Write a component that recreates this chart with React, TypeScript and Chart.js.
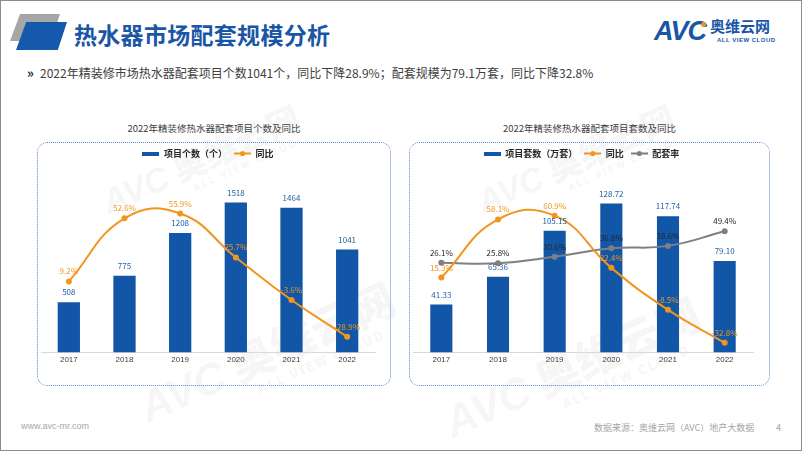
import React, { useEffect, useRef } from "react";
import { Chart, registerables } from "chart.js";

Chart.register(...registerables);

// ---------- data ----------
const years = ["2017", "2018", "2019", "2020", "2021", "2022"];
const projectCount = [508, 775, 1208, 1518, 1464, 1041];
const projectCountYoY = [9.2, 52.6, 55.9, 25.7, -3.6, -28.9];
const unitVolume = [41.33, 65.36, 105.15, 128.72, 117.74, 79.1];
const unitVolumeYoY = [15.3, 58.1, 60.9, 22.4, -8.5, -32.8];
const matchRate = [26.1, 25.8, 30.6, 36.8, 38.6, 49.4];

// ---------- styles ----------
const BLUE = "#1156A7";
const ORANGE = "#F2951F";
const GRAY = "#7F7F7F";
const LABEL_BLUE = "#1F5FA6";
const TEXT = "#404040";
const CJK = '"Noto Sans CJK SC", "Liberation Sans", sans-serif';
const LATIN = '"Liberation Sans", "Noto Sans CJK SC", sans-serif';

function barIcon(color: string) {
  const c = document.createElement("canvas");
  c.width = 17;
  c.height = 4;
  const ctx = c.getContext("2d")!;
  ctx.fillStyle = color;
  ctx.fillRect(0, 0, 17, 4);
  return c;
}

function lineIcon(color: string) {
  const c = document.createElement("canvas");
  c.width = 17;
  c.height = 7;
  const ctx = c.getContext("2d")!;
  ctx.strokeStyle = color;
  ctx.lineWidth = 2;
  ctx.beginPath();
  ctx.moveTo(0, 3.5);
  ctx.lineTo(17, 3.5);
  ctx.stroke();
  ctx.fillStyle = color;
  ctx.beginPath();
  ctx.arc(8.5, 3.5, 2.6, 0, Math.PI * 2);
  ctx.fill();
  return c;
}

const valueLabelPlugin = {
  id: "valueLabels",
  afterDatasetsDraw(chart: any) {
    const ctx = chart.ctx;
    chart.data.datasets.forEach((ds: any, i: number) => {
      const meta = chart.getDatasetMeta(i);
      const opt = ds.valueLabel;
      if (!opt) return;
      meta.data.forEach((el: any, j: number) => {
        const v = ds.data[j];
        ctx.save();
        ctx.font = `${opt.weight || "normal"} 8px ${CJK}`;
        ctx.fillStyle = opt.color;
        ctx.textAlign = "center";
        ctx.textBaseline = "middle";
        ctx.fillText(opt.fmt(v), el.x + (opt.dx || 0), el.y - (opt.dy || 10));
        ctx.restore();
      });
    });
  },
};

function legendOptions(icons: any[]) {
  return {
    display: true,
    position: "top",
    labels: {
      usePointStyle: true,
      pointStyleWidth: 17,
      boxHeight: 9,
      padding: 7,
      color: "#262626",
      font: { size: 9, weight: "bold", family: CJK },
      generateLabels(chart: any) {
        const items = Chart.defaults.plugins.legend.labels.generateLabels(chart);
        items.sort((a: any, b: any) => a.datasetIndex - b.datasetIndex);
        return items.map((it: any) => ({ ...it, pointStyle: icons[it.datasetIndex] }));
      },
    },
  };
}

const xScale = {
  grid: { display: false, drawTicks: false },
  border: { display: true, color: "#D9D9D9", width: 1 },
  ticks: { color: TEXT, font: { size: 8, family: LATIN }, padding: 3 },
};

function ChartOne() {
  const ref = useRef<HTMLCanvasElement>(null);
  useEffect(() => {
    const chart = new Chart(ref.current!, {
      type: "bar",
      data: {
        labels: years,
        datasets: [
          {
            type: "bar",
            label: "项目个数（个）",
            data: projectCount,
            backgroundColor: BLUE,
            yAxisID: "y",
            order: 2,
            barPercentage: 0.4,
            categoryPercentage: 1,
            valueLabel: { color: LABEL_BLUE, fmt: (v: number) => String(v) },
          } as any,
          {
            type: "line",
            label: "同比",
            data: projectCountYoY,
            borderColor: ORANGE,
            backgroundColor: ORANGE,
            borderWidth: 2,
            pointRadius: 3,
            pointBorderWidth: 0,
            tension: 0.45,
            yAxisID: "y2",
            order: 1,
            valueLabel: { color: ORANGE, fmt: (v: number) => v.toFixed(1) + "%" },
          } as any,
        ],
      },
      options: {
        animation: false,
        responsive: false,
        events: [],
        layout: { padding: { left: 4, right: 16, top: 0, bottom: 18 } },
        plugins: { legend: legendOptions([barIcon(BLUE), lineIcon(ORANGE)]) as any, tooltip: { enabled: false } },
        scales: {
          x: xScale as any,
          y: { display: false, min: 0, max: 1867 },
          y2: { display: false, min: -39.6, max: 87.2 },
        },
      },
      plugins: [valueLabelPlugin],
    });
    return () => chart.destroy();
  }, []);
  return <canvas ref={ref} width={354} height={244} style={{ position: "absolute", left: 36, top: 141 }} />;
}

function ChartTwo() {
  const ref = useRef<HTMLCanvasElement>(null);
  useEffect(() => {
    const chart = new Chart(ref.current!, {
      type: "bar",
      data: {
        labels: years,
        datasets: [
          {
            type: "bar",
            label: "项目套数（万套）",
            data: unitVolume,
            backgroundColor: BLUE,
            yAxisID: "y",
            order: 3,
            barPercentage: 0.39,
            categoryPercentage: 1,
            valueLabel: { color: LABEL_BLUE, fmt: (v: number) => v.toFixed(2) },
          } as any,
          {
            type: "line",
            label: "同比",
            data: unitVolumeYoY,
            borderColor: ORANGE,
            backgroundColor: ORANGE,
            borderWidth: 2,
            pointRadius: 3,
            pointBorderWidth: 0,
            tension: 0.45,
            yAxisID: "y2",
            order: 1,
            valueLabel: { color: ORANGE, fmt: (v: number) => v.toFixed(1) + "%" },
          } as any,
          {
            type: "line",
            label: "配套率",
            data: matchRate,
            borderColor: GRAY,
            backgroundColor: GRAY,
            borderWidth: 2,
            pointRadius: 3,
            pointBorderWidth: 0,
            tension: 0.45,
            yAxisID: "y2",
            order: 2,
            valueLabel: { color: "#262626", fmt: (v: number) => v.toFixed(1) + "%" },
          } as any,
        ],
      },
      options: {
        animation: false,
        responsive: false,
        events: [],
        layout: { padding: { left: 1, right: 18, top: 0, bottom: 18 } },
        plugins: {
          legend: legendOptions([barIcon(BLUE), lineIcon(ORANGE), lineIcon(GRAY)]) as any,
          tooltip: { enabled: false },
        },
        scales: {
          x: xScale as any,
          y: { display: false, min: 0, max: 159.4 },
          y2: { display: false, min: -39.9, max: 96.0 },
        },
      },
      plugins: [valueLabelPlugin],
    });
    return () => chart.destroy();
  }, []);
  return <canvas ref={ref} width={362} height={244} style={{ position: "absolute", left: 408, top: 141 }} />;
}

function Watermark({ left, top, size }: { left: number; top: number; size: number }) {
  return (
    <div
      style={{
        position: "absolute",
        left,
        top,
        transform: "rotate(-24deg)",
        transformOrigin: "left top",
        color: "rgba(120,120,120,0.07)",
        fontFamily: CJK,
        fontWeight: 900,
        fontSize: size,
        whiteSpace: "nowrap",
        lineHeight: 1,
        pointerEvents: "none",
      }}
    >
      <span style={{ fontStyle: "italic", fontFamily: LATIN }}>AVC</span> 奥维云网
      <div style={{ fontSize: size * 0.3, marginLeft: size * 2.6, letterSpacing: 2 }}>ALL VIEW CLOUD</div>
    </div>
  );
}

export default function App() {
  return (
    <div
      style={{
        position: "absolute",
        left: 0,
        top: 0,
        width: 802,
        height: 451,
        boxSizing: "border-box",
        border: "1px solid #8c8c8c",
        background: "#fff",
        overflow: "hidden",
        fontFamily: CJK,
      }}
    >
      {/* header logo blocks */}
      <div style={{ position: "absolute", left: 9, top: 13, width: 50, height: 27, background: "#A6A6A6", clipPath: "polygon(20% 0, 100% 0, 82% 100%, 0 100%)" }} />
      <div style={{ position: "absolute", left: 15, top: 21, width: 51, height: 28, background: "#1559AC", clipPath: "polygon(20% 0, 100% 0, 82% 100%, 0 100%)" }} />
      <div style={{ position: "absolute", left: 73, top: 17, fontSize: 23, fontWeight: 700, color: "#1A56A5", lineHeight: "32px", letterSpacing: 0.3 }}>
        热水器市场配套规模分析
      </div>

      {/* AVC logo */}
      <div style={{ position: "absolute", left: 653, top: 14, fontFamily: LATIN, fontWeight: 900, fontStyle: "italic", fontSize: 27, color: "#1A56A5", letterSpacing: -1, lineHeight: "32px" }}>
        AVC
      </div>
      <div style={{ position: "absolute", left: 700, top: 21, width: 5, height: 5, borderRadius: 3, background: "#F2951F" }} />
      <div style={{ position: "absolute", left: 709, top: 15, fontSize: 15, fontWeight: 700, color: "#1A56A5", lineHeight: "20px", letterSpacing: 0 }}>
        奥维云网
      </div>
      <div style={{ position: "absolute", left: 716, top: 35, fontSize: 6, fontWeight: 700, color: "#1A56A5", fontFamily: LATIN, lineHeight: "8px", letterSpacing: 0.5 }}>
        ALL VIEW CLOUD
      </div>

      {/* bullet */}
      <div style={{ position: "absolute", left: 26, top: 63, fontSize: 13, fontWeight: 700, color: "#262626", lineHeight: "18px" }}>»</div>
      <div style={{ position: "absolute", left: 39, top: 63, fontSize: 12, color: TEXT, lineHeight: "18px", whiteSpace: "nowrap" }}>
        2022年精装修市场热水器配套项目个数1041个，同比下降28.9%；配套规模为79.1万套，同比下降32.8%
      </div>

      {/* watermarks */}
      <Watermark left={95} top={185} size={34} />
      <Watermark left={470} top={185} size={34} />
      <Watermark left={130} top={385} size={44} />
      <Watermark left={435} top={400} size={44} />

      {/* chart titles */}
      <div style={{ position: "absolute", left: 36, width: 354, top: 119, textAlign: "center", fontSize: 9.5, color: TEXT, lineHeight: "16px" }}>
        2022年精装修热水器配套项目个数及同比
      </div>
      <div style={{ position: "absolute", left: 408, width: 361, top: 119, textAlign: "center", fontSize: 9.5, color: TEXT, lineHeight: "16px" }}>
        2022年精装修热水器配套项目套数及同比
      </div>

      {/* chart boxes */}
      <div style={{ position: "absolute", left: 36, top: 141, width: 354, height: 244, boxSizing: "border-box", border: "1px dotted #5B87C5", borderRadius: 10 }} />
      <div style={{ position: "absolute", left: 408, top: 141, width: 361, height: 244, boxSizing: "border-box", border: "1px dotted #5B87C5", borderRadius: 10 }} />

      <ChartOne />
      <ChartTwo />

      {/* footer */}
      <div style={{ position: "absolute", left: 20, top: 420, fontSize: 9, color: "#A6A6A6", fontFamily: LATIN }}>www.avc-mr.com</div>
      <div style={{ position: "absolute", left: 593, top: 420, fontSize: 9, color: "#A6A6A6" }}>数据来源：奥维云网（AVC）地产大数据</div>
      <div style={{ position: "absolute", left: 775, top: 420, fontSize: 9, color: "#A6A6A6" }}>4</div>
    </div>
  );
}
